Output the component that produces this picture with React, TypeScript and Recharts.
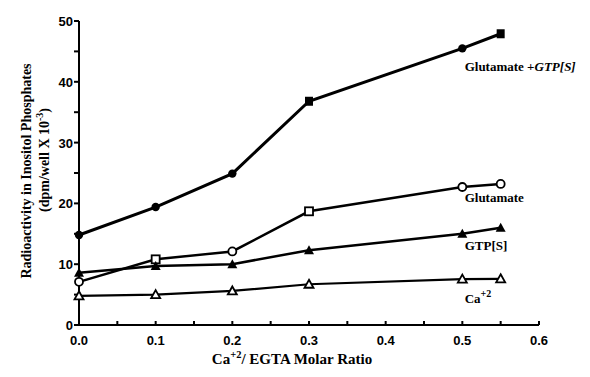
import React from "react";
import { LineChart, Line, XAxis, YAxis, LabelList } from "recharts";

// Ca+2 / EGTA molar ratio
const ratios = [0, 0.1, 0.2, 0.3, 0.5, 0.55];

const glutGtp = [14.8, 19.4, 24.9, 36.8, 45.5, 47.9];
const glutamate = [7.1, 10.8, 12.1, 18.7, 22.7, 23.2];
const gtps = [8.6, 9.7, 10.0, 12.3, 15.0, 16.0];
const calcium = [4.8, 5.0, 5.6, 6.7, 7.55, 7.6];

const xTicks = [0, 0.05, 0.1, 0.15, 0.2, 0.25, 0.3, 0.35, 0.4, 0.45, 0.5, 0.55, 0.6];
const yTicks = [0, 5, 10, 15, 20, 25, 30, 35, 40, 45, 50];

const data = ratios.map((r, i) => ({
  ratio: r,
  glutGtp: glutGtp[i],
  glutamate: glutamate[i],
  gtps: gtps[i],
  calcium: calcium[i],
}));

const serif = "'Liberation Serif', 'DejaVu Serif', serif";
const sans = "'Liberation Sans', Arial, sans-serif";

// filled circles, squares where the error bar caps sit
const GlutGtpDot = ({ cx, cy, index }: any) =>
  index === 3 || index === 5 ? (
    <rect key={index} x={cx - 4} y={cy - 4.5} width={8} height={9} fill="#000" />
  ) : (
    <circle key={index} cx={cx} cy={cy} r={4.2} fill="#000" />
  );

const GlutDot = ({ cx, cy, index }: any) =>
  index === 1 || index === 3 ? (
    <rect key={index} x={cx - 4} y={cy - 4} width={8} height={8} fill="#fff" stroke="#000" strokeWidth={1.8} />
  ) : (
    <circle key={index} cx={cx} cy={cy} r={4} fill="#fff" stroke="#000" strokeWidth={1.8} />
  );

const FilledTri = ({ cx, cy, index }: any) => (
  <path key={index} d={`M${cx},${cy - 5} L${cx + 5},${cy + 4} L${cx - 5},${cy + 4} Z`} fill="#000" />
);

const OpenTri = ({ cx, cy, index }: any) => (
  <path
    key={index}
    d={`M${cx},${cy - 4.5} L${cx + 4.5},${cy + 3.5} L${cx - 4.5},${cy + 3.5} Z`}
    fill="#fff"
    stroke="#000"
    strokeWidth={1.8}
  />
);

const endLabel = (text: React.ReactNode, dy: number) => (props: any) => {
  const { x, y, index } = props;
  if (index !== ratios.length - 1) return null;
  return (
    <text x={x - 36} y={y + dy} fontFamily={serif} fontWeight="bold" fontSize={13} fill="#000">
      {text}
    </text>
  );
};

const XTick = ({ x, y, payload }: any) => {
  const v = payload.value;
  if (Math.abs(Math.round(v * 10) - v * 10) > 1e-6) return null;
  return (
    <text x={x} y={y + 20} textAnchor="middle" fontFamily={sans} fontWeight="bold" fontSize={13} fill="#000">
      {v.toFixed(1)}
    </text>
  );
};

const YTick = ({ x, y, payload }: any) => {
  if (payload.value % 10 !== 0) return null;
  return (
    <text x={x - 1} y={y + 5} textAnchor="end" fontFamily={sans} fontWeight="bold" fontSize={13} fill="#000">
      {payload.value}
    </text>
  );
};

export default function App() {
  return (
    <div style={{ position: "relative", width: 590, height: 377, background: "#fff" }}>
      <style>{"body{margin:0}"}</style>
      <LineChart width={590} height={377} data={data} margin={{ top: 21, right: 51, left: 0, bottom: 22 }}>
        <XAxis
          dataKey="ratio"
          type="number"
          domain={[0, 0.6]}
          ticks={xTicks}
          interval={0}
          stroke="#000"
          strokeWidth={2}
          tickSize={-4}
          tickMargin={4}
          tick={<XTick />}
          height={30}
        />
        <YAxis
          type="number"
          domain={[0, 50]}
          ticks={yTicks}
          interval={0}
          stroke="#000"
          strokeWidth={2}
          tickSize={5}
          tickMargin={0}
          tick={<YTick />}
          width={79}
        />
        <Line dataKey="glutGtp" stroke="#000" strokeWidth={3} dot={<GlutGtpDot />} isAnimationActive={false}>
          <LabelList
            dataKey="glutGtp"
            content={endLabel(
              <>
                Glutamate +<tspan fontStyle="italic">GTP[S]</tspan>
              </>,
              37
            )}
          />
        </Line>
        <Line dataKey="glutamate" stroke="#000" strokeWidth={2.5} dot={<GlutDot />} isAnimationActive={false}>
          <LabelList dataKey="glutamate" content={endLabel("Glutamate", 18)} />
        </Line>
        <Line dataKey="gtps" stroke="#000" strokeWidth={2.5} dot={<FilledTri />} isAnimationActive={false}>
          <LabelList dataKey="gtps" content={endLabel("GTP[S]", 22)} />
        </Line>
        <Line dataKey="calcium" stroke="#000" strokeWidth={2.2} dot={<OpenTri />} isAnimationActive={false}>
          <LabelList
            dataKey="calcium"
            content={endLabel(
              <>
                Ca<tspan fontSize={10} dy={-6}>+2</tspan>
              </>,
              24
            )}
          />
        </Line>
      </LineChart>
      <svg width={590} height={377} style={{ position: "absolute", left: 0, top: 0, pointerEvents: "none" }}>
        <g fontFamily={serif} fontWeight="bold" fill="#000">
          <text transform="translate(31,171) rotate(-90)" textAnchor="middle" fontSize={14}>
            Radioactivity in Inositol Phosphates
          </text>
          <text transform="translate(49,160) rotate(-90)" textAnchor="middle" fontSize={14}>
            (dpm/well X 10<tspan fontSize={10} dy={-6}>-3</tspan>
            <tspan dy={6}>)</tspan>
          </text>
          <text x={292} y={364} textAnchor="middle" fontSize={15}>
            Ca<tspan fontSize={10.5} dy={-6}>+2</tspan>
            <tspan dy={6}>/ EGTA Molar Ratio</tspan>
          </text>
        </g>
      </svg>
    </div>
  );
}
